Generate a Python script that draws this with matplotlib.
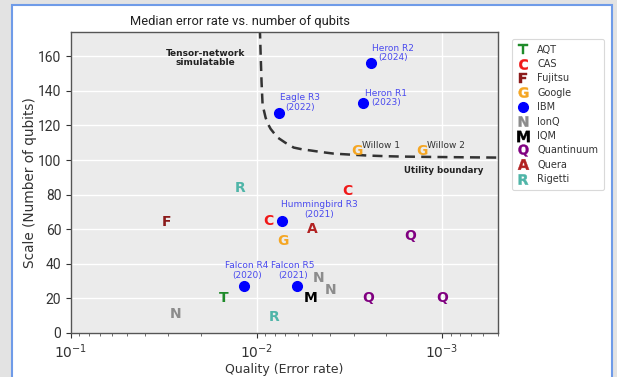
import matplotlib
matplotlib.use("Agg")
import matplotlib.pyplot as plt
from matplotlib.lines import Line2D
from matplotlib.patches import Rectangle

plt.rcParams['font.family'] = ['DejaVu Sans']

# ---- data ----
companies = ['AQT', 'CAS', 'Fujitsu', 'Google', 'IBM', 'IonQ', 'IQM', 'Quantinuum', 'Quera', 'Rigetti']
letters = ['T', 'C', 'F', 'G', None, 'N', 'M', 'Q', 'A', 'R']
colors = ['#1f8b2a', '#f01818', '#8b1a1a', '#f5a623', '#0000ff', '#8c8c8c', '#000000', '#800080', '#b22222', '#4fb5a8']

aqt_err = [1.51e-2];                          aqt_q = [20]
cas_err = [3.26e-3, 8.65e-3];                 cas_q = [82, 65]
fujitsu_err = [3.04e-2];                      fujitsu_q = [64]
google_err = [2.89e-3, 1.29e-3, 7.2e-3];      google_q = [105, 105, 53]
ibm_err = [2.42e-3, 2.66e-3, 7.58e-3, 7.3e-3, 1.17e-2, 6.08e-3]
ibm_q = [156, 133, 127, 65, 27, 27]
ionq_err = [2.73e-2, 4.64e-3, 4.0e-3];        ionq_q = [11, 32, 25]
iqm_err = [5.1e-3];                           iqm_q = [20]
quantinuum_err = [1.49e-3, 2.5e-3, 1.0e-3];   quantinuum_q = [56, 20, 20]
quera_err = [5.0e-3];                         quera_q = [60]
rigetti_err = [1.22e-2, 8.06e-3];             rigetti_q = [84, 9]

series_err = [aqt_err, cas_err, fujitsu_err, google_err, ibm_err, ionq_err,
              iqm_err, quantinuum_err, quera_err, rigetti_err]
series_q = [aqt_q, cas_q, fujitsu_q, google_q, ibm_q, ionq_q, iqm_q,
            quantinuum_q, quera_q, rigetti_q]

ibm_labels = ['Heron R2\n(2024)', 'Heron R1\n(2023)', 'Eagle R3\n(2022)',
              'Hummingbird R3\n(2021)', 'Falcon R4\n(2020)', 'Falcon R5\n(2021)']
ibm_label_offsets = [(22, 10), (23, 5), (21, 11), (37, 11), (3, 16), (-4, 16)]

willow_labels = ['Willow 1', 'Willow 2']

# boundary curve points
boundary_err = [9.6e-3, 9.5e-3, 9.4e-3, 9.28e-3, 9.1e-3, 8.94e-3, 8.7e-3, 8.4e-3, 8.05e-3,
                7.7e-3, 7.0e-3, 6.31e-3, 5.7e-3, 5.1e-3, 4.4e-3, 3.84e-3, 3.1e-3,
                2.54e-3, 2.0e-3, 1.67e-3, 1.2e-3, 8.0e-4, 5.0e-4]
boundary_q = [176, 160, 145, 132, 128, 124.5, 121, 118, 115.5,
              113, 110, 107.2, 106.2, 105.5, 104.5, 103.7, 103.1,
              102.6, 102.2, 102, 101.8, 101.6, 101.4]

# ---- figure ----
fig = plt.figure(figsize=(6.17, 3.77), dpi=100)
fig.patch.set_facecolor('#e3e3e3')
fig.patches.append(Rectangle((12 / 617, -0.05), (612 - 12) / 617, 1.05 - 5 / 377,
                             transform=fig.transFigure, facecolor='white',
                             edgecolor='#6f9be8', linewidth=1.5, zorder=-5))

ax = fig.add_axes([71 / 617, 1 - 333 / 377, (498 - 71) / 617, (333 - 32) / 377])
ax.set_zorder(1)
ax.set_facecolor('#ebebeb')
ax.set_xscale('log')
ax.set_xlim(1e-1, 5e-4)
ax.set_ylim(0, 174)
ax.set_yticks([0, 20, 40, 60, 80, 100, 120, 140, 160])
ax.grid(True, which='major', color='white', linewidth=1.0)
ax.set_axisbelow(True)
for s in ax.spines.values():
    s.set_color('#555555')
    s.set_linewidth(1.0)
ax.tick_params(axis='both', which='major', labelsize=10, colors='#333333', length=3.5)
ax.tick_params(axis='x', which='minor', length=2, colors='#555555')
for lbl in ax.get_yticklabels():
    lbl.set_family('Roboto')

ax.plot(boundary_err, boundary_q, linestyle=(0, (4, 2.5)), color='#333333', linewidth=1.8, zorder=2)

legend_ms = {'T': 7.5, 'C': 7.5, 'F': 7.5, 'G': 7.5, 'N': 7.5, 'M': 9, 'Q': 8.5, 'A': 8, 'R': 7.5}
handles = []
for name, let, col, xs, ys in zip(companies, letters, colors, series_err, series_q):
    if let is None:
        ax.plot(xs, ys, linestyle='none', marker='o', color=col, markersize=7, zorder=3)
        handles.append(Line2D([], [], linestyle='none', marker='o', color=col,
                              markersize=7, label=name))
    else:
        for x, y in zip(xs, ys):
            ax.text(x, y, let, color=col, fontsize=10, fontweight='bold',
                    ha='center', va='center', zorder=3)
        handles.append(Line2D([], [], linestyle='none', marker=r'$\mathbf{%s}$' % let,
                              color=col, markersize=legend_ms[let], markeredgewidth=0.3,
                              label=name))

for x, y, lab, off in zip(ibm_err, ibm_q, ibm_labels, ibm_label_offsets):
    ax.annotate(lab, (x, y), xytext=off, textcoords='offset pixels',
                ha='center', va='center', fontsize=6.5, color='#4a4aee',
                linespacing=1.1, zorder=4)

for x, y, lab in zip(google_err[:2], google_q[:2], willow_labels):
    ax.annotate(lab, (x, y), xytext=(5, 6), textcoords='offset pixels',
                ha='left', va='center', fontsize=6.5, color='#333333', zorder=4)

ax.text(1.89e-2, 159, 'Tensor-network\nsimulatable', ha='center', va='center',
        fontsize=6.5, fontweight='bold', color='#222222', linespacing=1.1)
ax.text(9.75e-4, 94, 'Utility boundary', ha='center', va='center',
        fontsize=6.2, fontweight='bold', color='#222222')

fig.text(240 / 617, 1 - 22 / 377, 'Median error rate vs. number of qubits',
         ha='center', va='center', fontsize=9.3, family='Roboto', color='#222222')
ax.set_xlabel('Quality (Error rate)', fontsize=9, color='#333333', labelpad=1)
ax.set_ylabel('Scale (Number of qubits)', fontsize=9.8, color='#333333', labelpad=1)

leg = fig.legend(handles=handles, loc='upper left', bbox_to_anchor=(507 / 617, 1 - 34 / 377),
                 fontsize=7, frameon=True, handlelength=1.0, handletextpad=1.0,
                 labelspacing=0.45, borderpad=0.6)
leg.get_frame().set_edgecolor('#d0d0d0')
leg.get_frame().set_linewidth(0.8)
for t in leg.get_texts():
    t.set_color('#333333')

fig.savefig('out.png', dpi=100, facecolor=fig.get_facecolor())
